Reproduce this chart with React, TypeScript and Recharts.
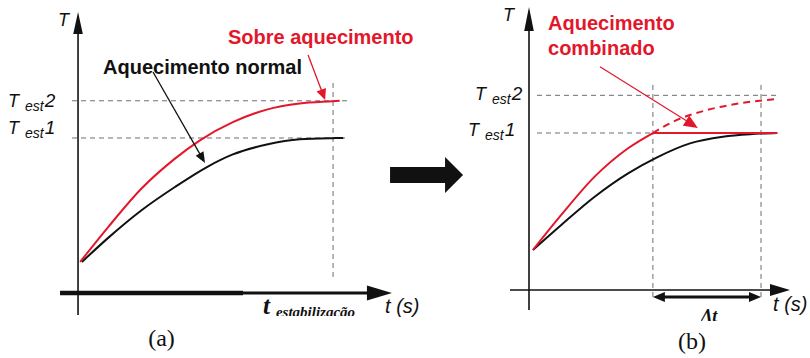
import React from 'react';
import { LineChart, Line, XAxis, YAxis, ReferenceLine, ReferenceDot } from 'recharts';

// ---------- data, panel (a) ----------
const tRedA = [0.08, 1.19, 2.49, 3.8, 4.78, 6.07, 7.4, 8.69, 9.98, 10.26];
const TRedA = [20, 42.7, 67.4, 86.7, 98.5, 110.2, 118.3, 122.2, 123.7, 124];
const tBlackA = [0.15, 1.17, 2.49, 3.8, 5.09, 6.07, 7.4, 8.69, 9.98, 10.4];
const TBlackA = [20, 35.4, 53.4, 68.4, 81.6, 89.4, 95.8, 99.2, 99.9, 100];

// ---------- data, panel (b) ----------
const tBlackB = [0.17, 1.39, 2.83, 4.27, 5.52, 6.94, 8.36, 9.53, 10, 10.7];
const TBlackB = [25.5, 41.4, 59.4, 74.3, 84.5, 93.4, 97.6, 99.2, 99.6, 100];
const tRedB = [0.17, 1.39, 2.83, 4.27, 5.34];
const TRedB = [25.5, 47.8, 72.2, 90.3, 100];
const tRedFlatB = [5.34, 10.7];
const TRedFlatB = [100, 100];
const tRedDashB = [5.34, 6.21, 7.67, 9.09, 10.69];
const TRedDashB = [100, 107.2, 114.6, 118.9, 121.7];

// ---------- reference levels / times ----------
const T_EST1 = 100;
const T_EST2 = 124;
const T_STAB = 10;
const T_COMB = 5.34;

// ---------- labels ----------
const labelT = 'T';
const labelEst = 'est';
const labelRed = 'Sobre aquecimento';
const labelBlack = 'Aquecimento normal';
const labelComb = ['Aquecimento', 'combinado'];
const labelTime = 't (s)';
const labelStab = ['t', 'estabilização'];
const labelDelta = 'Δt';
const panelNames = ['(a)', '(b)'];

// ---------- styles ----------
const SANS = "'Liberation Sans', Arial, sans-serif";
const SERIF = "'Liberation Serif', 'Times New Roman', serif";
const RED = '#e3172b';
const INK = '#111111';
const GRID = '#6e6e6e';

const pts = (ts: number[], Ts: number[]) => ts.map((t, i) => ({ t, T: Ts[i] }));

const headPts = (tx: number, ty: number, ux: number, uy: number, h: number, w: number) => {
  const bx = tx - ux * h;
  const by = ty - uy * h;
  return `${tx},${ty} ${bx - uy * w},${by + ux * w} ${bx + uy * w},${by - ux * w}`;
};

const arrowShape = (color: string, sw: number, h: number, w: number, both = false) => (p: any) => {
  const { x1, y1, x2, y2 } = p;
  const dx = x2 - x1;
  const dy = y2 - y1;
  const L = Math.hypot(dx, dy) || 1;
  const ux = dx / L;
  const uy = dy / L;
  const sx = both ? x1 + ux * h * 0.8 : x1;
  const sy = both ? y1 + uy * h * 0.8 : y1;
  const ex = x2 - ux * h * 0.8;
  const ey = y2 - uy * h * 0.8;
  return (
    <g>
      <line x1={sx} y1={sy} x2={ex} y2={ey} stroke={color} strokeWidth={sw} />
      <polygon points={headPts(x2, y2, ux, uy, h, w)} fill={color} />
      {both ? <polygon points={headPts(x1, y1, -ux, -uy, h, w)} fill={color} /> : null}
    </g>
  );
};

const plainShape = (color: string, sw: number, dash?: string) => (p: any) => (
  <line x1={p.x1} y1={p.y1} x2={p.x2} y2={p.y2} stroke={color} strokeWidth={sw} strokeDasharray={dash} />
);

const seg = (key: string, a: [number, number], b: [number, number], shape: (p: any) => any) => (
  <ReferenceLine
    key={key}
    segment={[{ x: a[0], y: a[1] }, { x: b[0], y: b[1] }]}
    ifOverflow="visible"
    shape={shape}
  />
);

const at = (key: string, x: number, y: number, render: (cx: number, cy: number) => any) => (
  <ReferenceDot
    key={key}
    x={x}
    y={y}
    r={0}
    ifOverflow="visible"
    shape={(p: any) => <g>{render(p.cx, p.cy)}</g>}
  />
);

const testLabel = (cx: number, cy: number, idx: string) => (
  <text x={cx} y={cy} fontFamily={SANS} fontStyle="italic" fontSize={18} fill={INK}>
    <tspan>{labelT}</tspan>
    <tspan dx={6} dy={4} fontSize={14}>{labelEst}</tspan>
    <tspan dx={1} dy={-4} fontSize={19}>{idx}</tspan>
  </text>
);

const lineCommon = {
  type: 'monotone' as const,
  dataKey: 'T',
  dot: false,
  activeDot: false,
  isAnimationActive: false,
};

function PanelA() {
  return (
    <LineChart width={470} height={358} margin={{ top: 0, right: 0, bottom: 0, left: 0 }}>
      <XAxis dataKey="t" type="number" scale="linear" domain={[-3.06, 15.37]} hide />
      <YAxis type="number" scale="linear" domain={[-41.94, 189.03]} hide />
      {seg('d2', [-0.235, T_EST2], [10.59, T_EST2], plainShape(GRID, 1, '5 4'))}
      {seg('d1', [-0.235, T_EST1], [10.47, T_EST1], plainShape(GRID, 1, '5 4'))}
      {seg('dv', [T_STAB, 135.5], [T_STAB, 9.7], plainShape(GRID, 1, '5 4'))}
      {seg('ya', [0, -14.2], [0, 181.3], arrowShape(INK, 1.6, 22, 4.8))}
      {seg('xa0', [-0.706, 0], [6.47, 0], plainShape(INK, 4.5))}
      {seg('xa1', [6.4, 0], [12.31, 0], arrowShape(INK, 3, 25, 7.5))}
      <Line {...lineCommon} data={pts(tBlackA, TBlackA)} stroke={INK} strokeWidth={2} />
      <Line {...lineCommon} data={pts(tRedA, TRedA)} stroke={RED} strokeWidth={2} />
      {seg('ab', [2.94, 142.6], [4.98, 83.9], arrowShape(INK, 1.3, 11, 4.5))}
      {seg('ar', [9.02, 153.5], [9.69, 124.5], arrowShape(RED, 1.3, 11, 5))}
      {at('lT', -0.784, 172.3, (x, y) => (
        <text x={x} y={y} fontFamily={SANS} fontStyle="italic" fontSize={18} fill={INK}>{labelT}</text>
      ))}
      {at('l2', -2.745, 120, (x, y) => testLabel(x, y, '2'))}
      {at('l1', -2.745, 102.9, (x, y) => testLabel(x, y, '1'))}
      {at('lr', 5.88, 160.6, (x, y) => (
        <text x={x} y={y} fontFamily={SANS} fontWeight="bold" fontSize={20} fill={RED}>{labelRed}</text>
      ))}
      {at('lb', 0.98, 141.3, (x, y) => (
        <text x={x} y={y} fontFamily={SANS} fontWeight="bold" fontSize={20} fill={INK}>{labelBlack}</text>
      ))}
      {at('ls', 7.25, -13.55, (x, y) => (
        <svg x={x} y={y - 25} width={110} height={27} overflow="hidden">
          <text x={0} y={25} fontFamily={SERIF} fontStyle="italic" fontWeight="bold" fill={INK}>
            <tspan fontSize={25}>{labelStab[0]}</tspan>
            <tspan x={13} dy={3.5} fontSize={15}>{labelStab[1]}</tspan>
          </text>
        </svg>
      ))}
      {at('lts', 12.04, -12.9, (x, y) => (
        <text x={x} y={y} fontFamily={SANS} fontStyle="italic" fontSize={20} fill={INK}>{labelTime}</text>
      ))}
      {at('lp', 2.75, -34.2, (x, y) => (
        <text x={x} y={y} fontFamily={SERIF} fontSize={24} fill={INK}>{panelNames[0]}</text>
      ))}
      {at('big', 12.235, 76.13, (x, y) => (
        <polygon
          points={`${x},${y - 8} ${x + 55},${y - 8} ${x + 55},${y - 18} ${x + 73},${y} ${x + 55},${y + 18} ${x + 55},${y + 8} ${x},${y + 8}`}
          fill={INK}
        />
      ))}
    </LineChart>
  );
}

function PanelB() {
  return (
    <LineChart width={350} height={358} margin={{ top: 0, right: 0, bottom: 0, left: 0 }}>
      <XAxis dataKey="t" type="number" scale="linear" domain={[-2.974, 12.112]} hide />
      <YAxis type="number" scale="linear" domain={[-43.31, 184.71]} hide />
      {seg('d2', [0.345, T_EST2], [10.82, T_EST2], plainShape(GRID, 1, '5 4'))}
      {seg('d1', [0.345, T_EST1], [T_COMB, T_EST1], plainShape(GRID, 1, '5 4'))}
      {seg('v1', [T_COMB, 130.6], [T_COMB, -4.5], plainShape(GRID, 1, '5 4'))}
      {seg('v2', [T_STAB, 130.6], [T_STAB, -4.5], plainShape(GRID, 1, '5 4'))}
      {seg('yb', [0, -12.7], [0, 180.3], arrowShape(INK, 1.6, 24, 4.8))}
      {seg('xb', [-0.82, 0], [11.25, 0], arrowShape(INK, 1.5, 20, 6))}
      {seg('dt', [T_COMB, -4.5], [T_STAB, -4.5], arrowShape(INK, 3, 12, 5, true))}
      <Line {...lineCommon} data={pts(tBlackB, TBlackB)} stroke={INK} strokeWidth={2} />
      <Line {...lineCommon} data={pts(tRedDashB, TRedDashB)} stroke={RED} strokeWidth={2} strokeDasharray="7 5" />
      <Line {...lineCommon} type="linear" data={pts(tRedFlatB, TRedFlatB)} stroke={RED} strokeWidth={2} />
      <Line {...lineCommon} data={pts(tRedB, TRedB)} stroke={RED} strokeWidth={2} />
      {seg('ar', [3.06, 142.2], [7.28, 103.2], arrowShape(RED, 1.2, 14, 6))}
      {at('lT', -1.121, 171.3, (x, y) => (
        <text x={x} y={y} fontFamily={SANS} fontStyle="italic" fontSize={18} fill={INK}>{labelT}</text>
      ))}
      {at('l2', -2.33, 121, (x, y) => testLabel(x, y, '2'))}
      {at('l1', -2.63, 98.1, (x, y) => testLabel(x, y, '1'))}
      {at('lc', 0.82, 165.9, (x, y) => (
        <text x={x} y={y} fontFamily={SANS} fontWeight="bold" fontSize={20} fill={RED}>
          <tspan x={x}>{labelComb[0]}</tspan>
          <tspan x={x} dy={25}>{labelComb[1]}</tspan>
        </text>
      ))}
      {at('ld', 7.41, -20.4, (x, y) => (
        <svg x={x} y={y - 18} width={40} height={17} overflow="hidden">
          <text x={0} y={18} fontFamily={SERIF} fontStyle="italic" fontWeight="bold" fontSize={18} fill={INK}>{labelDelta}</text>
        </svg>
      ))}
      {at('lts', 10.52, -13.4, (x, y) => (
        <text x={x} y={y} fontFamily={SANS} fontStyle="italic" fontSize={20} fill={INK}>{labelTime}</text>
      ))}
      {at('lp', 6.42, -37.6, (x, y) => (
        <text x={x} y={y} fontFamily={SERIF} fontSize={24} fill={INK}>{panelNames[1]}</text>
      ))}
    </LineChart>
  );
}

export default function App() {
  return (
    <div style={{ position: 'absolute', left: 0, top: 0, width: 810, height: 358, background: '#ffffff' }}>
      <div style={{ position: 'absolute', left: 0, top: 0 }}>
        <PanelA />
      </div>
      <div style={{ position: 'absolute', left: 460, top: 0 }}>
        <PanelB />
      </div>
    </div>
  );
}
